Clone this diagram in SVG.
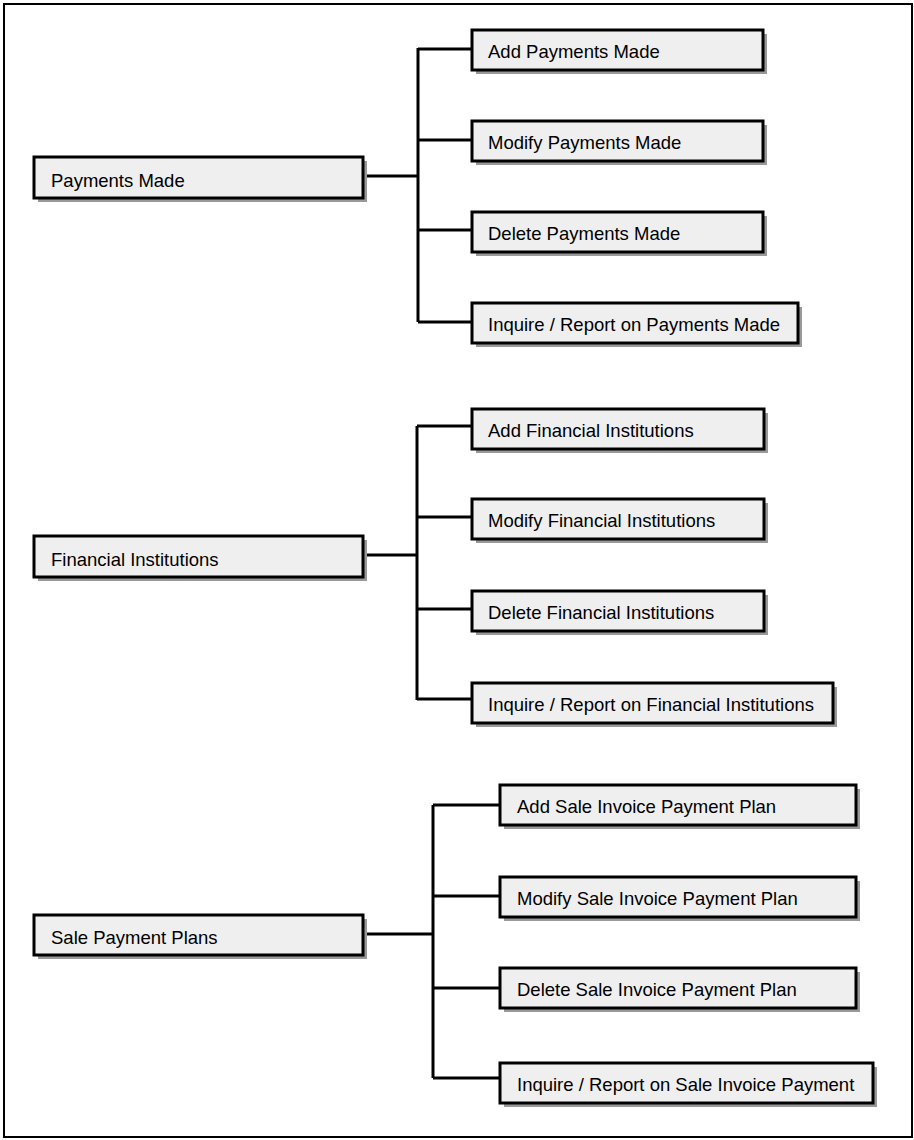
<svg xmlns="http://www.w3.org/2000/svg" width="914" height="1140" viewBox="0 0 914 1140">
<style>
.frame{fill:#fff;stroke:#000;stroke-width:2}
.shadow{fill:#999}
.box{fill:#efefef;stroke:#000;stroke-width:3}
.lbl{font-family:"Liberation Sans",Arial,sans-serif;font-size:18.5px;fill:#000}
.conn{fill:none;stroke:#000;stroke-width:3}
</style>
<rect class="frame" x="4" y="4" width="908" height="1133"/>
<g id="connectors">
<path class="conn" d="M363 176H418M418 48V322M418 49H472M418 140H472M418 230H472M418 322H472"/>
<path class="conn" d="M363 555H417M417 426V700M417 426H472M417 517H472M417 609H472M417 699H472"/>
<path class="conn" d="M363 934H433M433 805V1078M433 805H500M433 896H500M433 988H500M433 1078H500"/>
</g>
<g id="payments-made"><rect class="shadow" x="38" y="161" width="329" height="41"/><rect class="box" x="34" y="157" width="329" height="41"/><text class="lbl" x="51" y="187">Payments Made</text></g>
<g id="add-payments-made"><rect class="shadow" x="476" y="34" width="291" height="40"/><rect class="box" x="472" y="30" width="291" height="40"/><text class="lbl" x="488" y="58">Add Payments Made</text></g>
<g id="modify-payments-made"><rect class="shadow" x="476" y="125" width="291" height="40"/><rect class="box" x="472" y="121" width="291" height="40"/><text class="lbl" x="488" y="149">Modify Payments Made</text></g>
<g id="delete-payments-made"><rect class="shadow" x="476" y="216" width="291" height="40"/><rect class="box" x="472" y="212" width="291" height="40"/><text class="lbl" x="488" y="240">Delete Payments Made</text></g>
<g id="inquire-payments-made"><rect class="shadow" x="476" y="307" width="326" height="40"/><rect class="box" x="472" y="303" width="326" height="40"/><text class="lbl" x="488" y="331">Inquire / Report on Payments Made</text></g>
<g id="financial-institutions"><rect class="shadow" x="38" y="540" width="329" height="41"/><rect class="box" x="34" y="536" width="329" height="41"/><text class="lbl" x="51" y="566">Financial Institutions</text></g>
<g id="add-financial-institutions"><rect class="shadow" x="476" y="413" width="292" height="40"/><rect class="box" x="472" y="409" width="292" height="40"/><text class="lbl" x="488" y="437">Add Financial Institutions</text></g>
<g id="modify-financial-institutions"><rect class="shadow" x="476" y="503" width="292" height="40"/><rect class="box" x="472" y="499" width="292" height="40"/><text class="lbl" x="488" y="527">Modify Financial Institutions</text></g>
<g id="delete-financial-institutions"><rect class="shadow" x="476" y="595" width="292" height="40"/><rect class="box" x="472" y="591" width="292" height="40"/><text class="lbl" x="488" y="619">Delete Financial Institutions</text></g>
<g id="inquire-financial-institutions"><rect class="shadow" x="476" y="687" width="361" height="40"/><rect class="box" x="472" y="683" width="361" height="40"/><text class="lbl" x="488" y="711">Inquire / Report on Financial Institutions</text></g>
<g id="sale-payment-plans"><rect class="shadow" x="38" y="919" width="329" height="40"/><rect class="box" x="34" y="915" width="329" height="40"/><text class="lbl" x="51" y="944">Sale Payment Plans</text></g>
<g id="add-sale-invoice-payment-plan"><rect class="shadow" x="504" y="789" width="356" height="40"/><rect class="box" x="500" y="785" width="356" height="40"/><text class="lbl" x="517" y="813">Add Sale Invoice Payment Plan</text></g>
<g id="modify-sale-invoice-payment-plan"><rect class="shadow" x="504" y="881" width="356" height="40"/><rect class="box" x="500" y="877" width="356" height="40"/><text class="lbl" x="517" y="905">Modify Sale Invoice Payment Plan</text></g>
<g id="delete-sale-invoice-payment-plan"><rect class="shadow" x="504" y="972" width="356" height="40"/><rect class="box" x="500" y="968" width="356" height="40"/><text class="lbl" x="517" y="996">Delete Sale Invoice Payment Plan</text></g>
<g id="inquire-sale-invoice-payment"><rect class="shadow" x="504" y="1067" width="373" height="40"/><rect class="box" x="500" y="1063" width="373" height="40"/><text class="lbl" x="517" y="1091">Inquire / Report on Sale Invoice Payment</text></g>
</svg>
